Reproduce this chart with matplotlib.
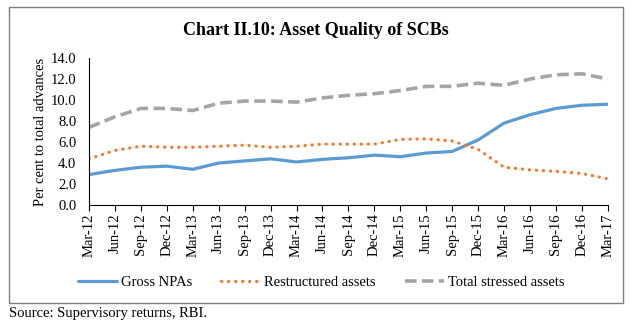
import matplotlib
matplotlib.use("Agg")
import matplotlib.pyplot as plt
from matplotlib.patches import Rectangle

plt.rcParams['font.family'] = ['Liberation Serif', 'DejaVu Serif']

quarters = ['Mar-12', 'Jun-12', 'Sep-12', 'Dec-12', 'Mar-13', 'Jun-13', 'Sep-13',
            'Dec-13', 'Mar-14', 'Jun-14', 'Sep-14', 'Dec-14', 'Mar-15', 'Jun-15',
            'Sep-15', 'Dec-15', 'Mar-16', 'Jun-16', 'Sep-16', 'Dec-16', 'Mar-17']
gross_npas = [2.9, 3.3, 3.6, 3.7, 3.4, 4.0, 4.2, 4.4, 4.1, 4.35, 4.5, 4.75,
              4.6, 4.95, 5.1, 6.2, 7.8, 8.6, 9.2, 9.5, 9.6]
restructured = [4.4, 5.2, 5.6, 5.5, 5.5, 5.6, 5.7, 5.5, 5.6, 5.8, 5.8, 5.8,
                6.25, 6.3, 6.1, 5.3, 3.6, 3.35, 3.2, 3.0, 2.5]
total_stressed = [7.4, 8.4, 9.2, 9.2, 9.0, 9.7, 9.9, 9.9, 9.8, 10.2, 10.45, 10.6,
                  10.9, 11.3, 11.3, 11.6, 11.4, 12.0, 12.4, 12.5, 12.0]

fig = plt.figure(figsize=(6.32, 3.27), dpi=100)
ax = fig.add_axes([0.1408, 0.373, 0.821, 0.4496])

x = list(range(len(quarters)))
ax.plot(x, gross_npas, color='#5B9BD5', lw=2.3, label='Gross NPAs',
        solid_capstyle='round')
ax.plot(x, restructured, color='#ED7D31', lw=2.3, label='Restructured assets',
        linestyle=(0, (0.1, 2.1)), dash_capstyle='round')
ax.plot(x, total_stressed, color='#A5A5A5', lw=2.6, label='Total stressed assets',
        linestyle=(0, (3.2, 1.5)))

ax.set_xlim(0, len(quarters) - 1)
ax.set_ylim(0, 14)
ax.set_yticks(range(0, 15, 2))
ax.set_yticklabels([f'{v:.1f}' for v in range(0, 15, 2)], fontsize=10.5)
ax.set_xticks(x)
ax.set_xticklabels(quarters, rotation=90, fontsize=10.5)
ax.tick_params(axis='y', length=0, pad=9)
ax.tick_params(axis='x', length=4, direction='out', pad=2)
ax.spines['top'].set_visible(False)
ax.spines['right'].set_visible(False)
ax.spines['left'].set_color('black')
ax.spines['bottom'].set_color('black')
ax.set_ylabel('Per cent to total advances', fontsize=10.5, labelpad=3)

fig.text(0.5, 0.908, 'Chart II.10: Asset Quality of SCBs', ha='center', va='center',
         fontsize=13, fontweight='bold')
fig.legend(loc='center', bbox_to_anchor=(0.508, 0.135), ncol=3, frameon=False,
           fontsize=10.5, handlelength=2.7, columnspacing=2.0, handletextpad=0.25)
fig.text(0.014, 0.040, 'Source: Supervisory returns, RBI.', ha='left', va='center',
         fontsize=10.5)

fig.patches.append(Rectangle((9 / 632, 1 - 303 / 327), 614 / 632, 296 / 327,
                             transform=fig.transFigure, fill=False,
                             edgecolor='#7f7f7f', lw=1.0))

fig.savefig('out.png', dpi=100)
